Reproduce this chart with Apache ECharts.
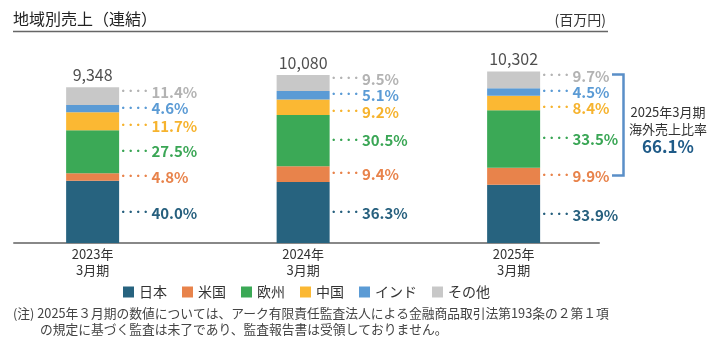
<!DOCTYPE html>
<html>
<head>
<meta charset="utf-8">
<script src="https://cdn.jsdelivr.net/npm/echarts@6/dist/echarts.min.js"></script>
<style>
html,body{margin:0;padding:0;background:#fff;}
#chart{width:725px;height:348px;}
</style>
</head>
<body>
<div id="chart"></div>
<script>
// ---- data ----
const categories = ['2023年\n3月期', '2024年\n3月期', '2025年\n3月期'];
const totals = [9348, 10080, 10302];
const regions = ['日本', '米国', '欧州', '中国', 'インド', 'その他'];
const shareJapan = [40.0, 36.3, 33.9];
const shareUS = [4.8, 9.4, 9.9];
const shareEurope = [27.5, 30.5, 33.5];
const shareChina = [11.7, 9.2, 8.4];
const shareIndia = [4.6, 5.1, 4.5];
const shareOther = [11.4, 9.5, 9.7];
const overseasLabel = ['2025年3月期', '海外売上比率'];
const overseasRatio = '66.1%';

// ---- styles ----
const FONT = '"Noto Sans CJK JP", "Noto Sans", sans-serif';
const barColors = ['#27637f', '#e8834b', '#3ba956', '#fbb833', '#5b9bd5', '#c8c8c8'];
const labelColors = ['#27607e', '#e8834b', '#3aa655', '#f6b32e', '#5b9bd5', '#b3b3b3'];
const labelOffsets = [[0, 1], [0, 0], [0, 0], [0, 5], [0, 0], [0, -4]];
const shares = [shareJapan, shareUS, shareEurope, shareChina, shareIndia, shareOther];

// spacer bands between the years (layout only)
const axisData = [];
const slotOf = [];
categories.forEach((c, i) => {
  if (i > 0) axisData.push('');
  slotOf.push(axisData.length);
  axisData.push(c);
});
function spread(values) {
  const arr = axisData.map(() => '-');
  values.forEach((v, i) => { arr[slotOf[i]] = v; });
  return arr;
}
function realIndex(dataIndex) { return slotOf.indexOf(dataIndex); }

const series = regions.map((name, si) => ({
  name: name,
  type: 'bar',
  stack: 'total',
  barWidth: 53,
  xAxisIndex: 0,
  yAxisIndex: 0,
  itemStyle: { color: barColors[si] },
  emphasis: { disabled: true },
  data: spread(totals.map((t, i) => t * shares[si][i] / 100)),
  label: {
    show: true,
    position: 'right',
    distance: 2,
    offset: labelOffsets[si],
    formatter: p => '{d|· · · · }{v|' + shares[si][realIndex(p.dataIndex)].toFixed(1) + '%}',
    rich: {
      d: { fontFamily: '"Noto Sans", sans-serif', fontSize: 14, fontWeight: 'bold', color: labelColors[si] },
      v: { fontFamily: FONT, fontSize: 15, fontWeight: 'bold', color: labelColors[si] }
    }
  }
}));

series.push({
  name: 'total',
  type: 'scatter',
  symbolSize: 0,
  silent: true,
  xAxisIndex: 0,
  yAxisIndex: 0,
  data: spread(totals),
  label: {
    show: true,
    position: 'top',
    distance: 4,
    formatter: p => totals[realIndex(p.dataIndex)].toLocaleString('en-US'),
    fontFamily: FONT,
    fontSize: 16,
    color: '#222'
  }
});

const chart = echarts.init(document.getElementById('chart'), null, { renderer: 'canvas' });
chart.setOption({
  animation: false,
  backgroundColor: '#fff',
  textStyle: { fontFamily: FONT },
  grid: [
    { left: 40, right: 158.75, top: 43, bottom: 105, containLabel: false },
    { left: 14, right: 126, top: 43, bottom: 105, containLabel: false }
  ],
  xAxis: [
    {
      type: 'category',
      gridIndex: 0,
      data: axisData,
      axisTick: { show: false },
      axisLine: { show: false },
      axisLabel: {
        interval: 0,
        fontFamily: FONT,
        fontSize: 13,
        lineHeight: 16,
        color: '#333',
        margin: 3
      }
    },
    {
      type: 'value',
      gridIndex: 1,
      min: 0,
      max: 1,
      axisTick: { show: false },
      axisLabel: { show: false },
      splitLine: { show: false },
      axisLine: { show: true, onZero: false, lineStyle: { color: '#888', width: 2 } }
    }
  ],
  yAxis: [
    { type: 'value', gridIndex: 0, min: 0, max: 12000, show: false, splitLine: { show: false } },
    { type: 'value', gridIndex: 1, min: 0, max: 1, show: false, splitLine: { show: false } }
  ],
  legend: {
    data: regions,
    left: 123,
    top: 285,
    padding: 0,
    itemWidth: 11,
    itemHeight: 11,
    itemGap: 15,
    icon: 'rect',
    selectedMode: false,
    textStyle: { fontFamily: FONT, fontSize: 14, color: '#333' }
  },
  series: series,
  graphic: [
    { type: 'text', left: 13, top: 11, style: { text: '地域別売上（連結）', font: '16px ' + FONT, fill: '#222' } },
    { type: 'text', right: 119, top: 13, style: { text: '(百万円)', font: '14px ' + FONT, fill: '#333' } },
    { type: 'line', shape: { x1: 13, y1: 31.5, x2: 608, y2: 31.5 }, style: { stroke: '#666', lineWidth: 1.5 } },
    { type: 'polyline', shape: { points: [[612, 74.5], [623.5, 74.5], [623.5, 175.5], [612, 175.5]] }, style: { stroke: '#5a8fc8', lineWidth: 2.5, fill: null } },
    { type: 'text', x: 668, y: 112.5, style: { text: overseasLabel[0], font: '13px ' + FONT, fill: '#333', align: 'center', verticalAlign: 'middle' } },
    { type: 'text', x: 668, y: 129.5, style: { text: overseasLabel[1], font: '13px ' + FONT, fill: '#333', align: 'center', verticalAlign: 'middle' } },
    { type: 'text', x: 668, y: 147, style: { text: overseasRatio, font: 'bold 17px ' + FONT, fill: '#1f5b88', align: 'center', verticalAlign: 'middle' } },
    { type: 'text', x: 13, y: 313, style: { text: '(注) 2025年３月期の数値については、アーク有限責任監査法人による金融商品取引法第193条の２第１項', font: '12.75px ' + FONT, fill: '#444', verticalAlign: 'middle' } },
    { type: 'text', x: 40, y: 329.5, style: { text: 'の規定に基づく監査は未了であり、監査報告書は受領しておりません。', font: '12.75px ' + FONT, fill: '#444', verticalAlign: 'middle' } }
  ]
});
</script>
</body>
</html>
